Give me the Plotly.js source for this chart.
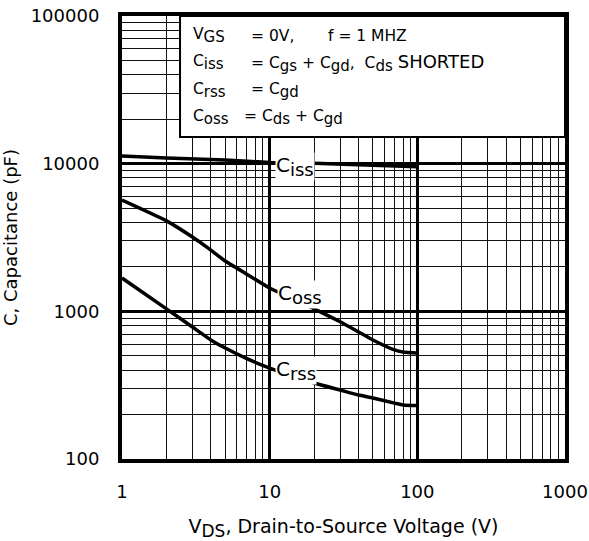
<!DOCTYPE html>
<html>
<head>
<meta charset="utf-8">
<script src="https://cdn.plot.ly/plotly-3.0.1.min.js"></script>
<style>html,body{margin:0;padding:0;background:#fff;}#chart{width:589px;height:541px;}</style>
</head>
<body>
<div id="chart"></div>
<script>
// ---- data ----
const vdsIss = [1, 2, 5, 10, 20, 50, 100];
const ciss   = [11250, 10910, 10580, 10200, 10050, 9770, 9530];

const vdsOssRss = [1, 2, 3, 4, 5, 7, 10, 20, 30, 40, 50, 70, 80, 100];
const coss = [5670, 4100, 3185, 2600, 2190, 1785, 1440, 1040, 850, 725, 640, 548, 530, 522];
const crss = [1680, 1040, 783, 640, 564, 478, 413, 327, 293, 271, 259, 239, 232, 230];

const xTickVals = [1, 10, 100, 1000];
const xTickText = ['1', '10', '100', '1000'];
const yTickVals = [100, 1000, 10000, 100000];
const yTickText = ['100', '1000', '10000', '100000'];

function sub(t, px) { return '<sub><span style="font-size:' + px + 'px">' + t + '</span></sub>'; }

const curveLabels = ['C' + sub('iss', 18), 'C' + sub('oss', 18), 'C' + sub('rss', 18)];
const noteLabels = ['V' + sub('GS', 15), 'C' + sub('iss', 15), 'C' + sub('rss', 15), 'C' + sub('oss', 15)];
const noteValues = [
  '= 0V,',
  '= C' + sub('gs', 15) + ' + C' + sub('gd', 15) + ',\u00a0\u00a0C' + sub('ds', 15) + ' <span style="font-size:18px">SHORTED</span>',
  '= C' + sub('gd', 15),
  '= C' + sub('ds', 15) + ' + C' + sub('gd', 15)
];
const noteFreq = 'f = 1 MHZ';
const xTitle = 'V' + sub('DS', 17) + ', Drain-to-Source Voltage (V)';
const yTitle = 'C, Capacitance (pF)';

// ---- drawing ----
const FONT = 'DejaVu Sans, Liberation Sans, Arial, sans-serif';
const lineStyle = {color: '#000', width: 3.5, shape: 'spline', smoothing: 0.5};

const traces = [
  {x: vdsIss, y: ciss, mode: 'lines', line: lineStyle, name: 'Ciss', hoverinfo: 'skip'},
  {x: vdsOssRss, y: coss, mode: 'lines', line: lineStyle, name: 'Coss', hoverinfo: 'skip'},
  {x: vdsOssRss, y: crss, mode: 'lines', line: lineStyle, name: 'Crss', hoverinfo: 'skip'}
];

const annFont = {family: FONT, size: 20, color: '#000'};
const noteFont = {family: FONT, size: 15.5, color: '#000'};
const annotations = [
  {xref: 'x', yref: 'y', x: 1.036, y: 3.984, xanchor: 'left', yanchor: 'middle', text: curveLabels[0], showarrow: false, bgcolor: '#fff', borderpad: 0, font: annFont},
  {xref: 'x', yref: 'y', x: 1.049, y: 3.117, xanchor: 'left', yanchor: 'middle', text: curveLabels[1], showarrow: false, bgcolor: '#fff', borderpad: 0, font: annFont},
  {xref: 'x', yref: 'y', x: 1.036, y: 2.596, xanchor: 'left', yanchor: 'middle', text: curveLabels[2], showarrow: false, bgcolor: '#fff', borderpad: 0, font: annFont}
];
const noteY = [0.955, 0.894, 0.831, 0.770];
const noteEqX = [0.289, 0.289, 0.289, 0.273];
for (let i = 0; i < noteLabels.length; i++) {
  annotations.push({xref: 'paper', yref: 'paper', x: 0.158, y: noteY[i], xanchor: 'left', yanchor: 'middle', text: noteLabels[i], showarrow: false, font: noteFont, borderpad: 0});
  annotations.push({xref: 'paper', yref: 'paper', x: noteEqX[i], y: noteY[i], xanchor: 'left', yanchor: 'middle', text: noteValues[i], showarrow: false, font: noteFont, borderpad: 0});
}
annotations.push({xref: 'paper', yref: 'paper', x: 0.463, y: noteY[0], xanchor: 'left', yanchor: 'middle', text: noteFreq, showarrow: false, font: noteFont, borderpad: 0});

const axisCommon = {
  type: 'log',
  showline: true, mirror: true, linecolor: '#000', linewidth: 4,
  showgrid: true, gridcolor: '#000', gridwidth: 2.5,
  minor: {dtick: 'D1', showgrid: true, gridcolor: '#111', gridwidth: 1, ticks: ''},
  ticks: '', zeroline: false, automargin: false,
  tickfont: {family: FONT, size: 18, color: '#000'}
};

const layout = {
  width: 589, height: 541,
  margin: {l: 122, r: 24, t: 16, b: 82},
  paper_bgcolor: '#fff', plot_bgcolor: '#fff',
  showlegend: false,
  xaxis: Object.assign({}, axisCommon, {
    range: [0, 3], tickmode: 'array', tickvals: xTickVals, ticktext: xTickText,
    ticklabelstandoff: 13,
    title: {text: xTitle, font: {family: FONT, size: 19, color: '#000'}, standoff: 20}
  }),
  yaxis: Object.assign({}, axisCommon, {
    range: [2, 5], tickmode: 'array', tickvals: yTickVals, ticktext: yTickText,
    ticklabelstandoff: 15,
    title: {text: yTitle, font: {family: FONT, size: 18, color: '#000'}, standoff: 14}
  }),
  shapes: [
    {type: 'rect', xref: 'paper', yref: 'paper', x0: 0.131, x1: 1, y0: 0.727, y1: 1,
     fillcolor: '#fff', line: {color: '#000', width: 2}, layer: 'above'}
  ],
  annotations: annotations
};

Plotly.newPlot('chart', traces, layout, {staticPlot: true, displayModeBar: false});
</script>
</body>
</html>
